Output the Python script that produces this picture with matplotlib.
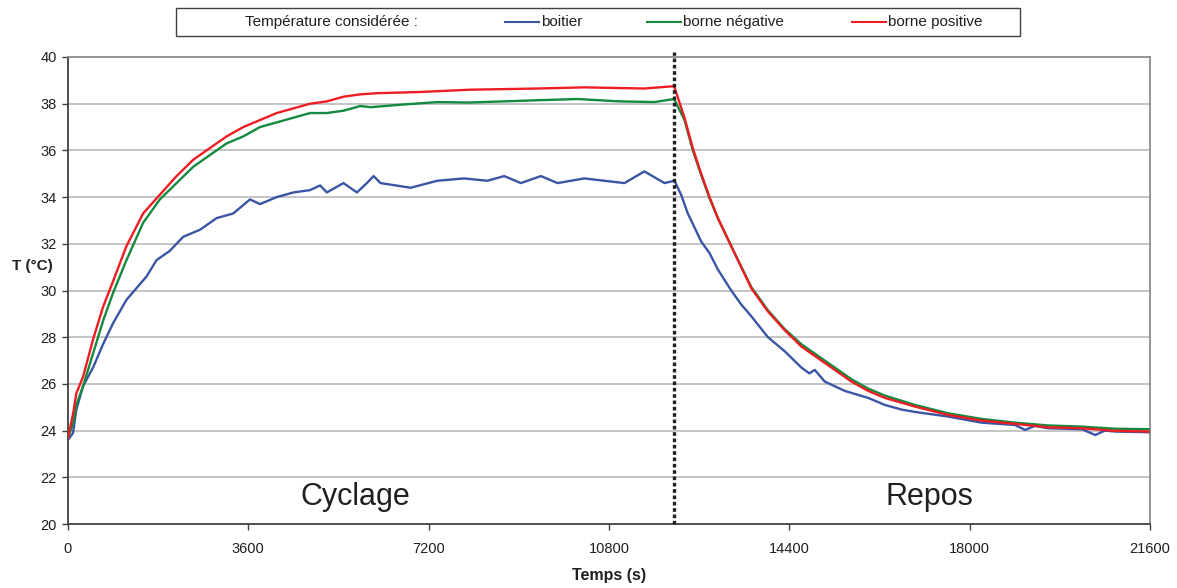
import matplotlib
matplotlib.use('Agg')
import matplotlib.pyplot as plt
from matplotlib.lines import Line2D
from matplotlib.patches import Rectangle

plt.rcParams['font.family'] = ['Liberation Sans', 'DejaVu Sans']

# temperatures (time in s, T in degC)
t_boitier = [0, 100, 167, 300, 500, 700, 900, 1167, 1367, 1567, 1767, 2033, 2300, 2633,
             2967, 3300, 3633, 3833, 4167, 4500, 4833, 5033, 5167, 5500, 5767, 5967, 6100,
             6240, 6840, 7373, 7907, 8373, 8707, 9040, 9440, 9773, 10307, 10707, 11107,
             11507, 11907, 12107, 12240, 12373, 12507, 12640, 12807, 12973, 13240, 13440,
             13640, 13973, 14307, 14640, 14800, 14907, 15107, 15507, 15973, 16307, 16640,
             16907, 17573, 18240, 18907, 19107, 19300, 19573, 20240, 20507, 20700, 20907, 21573]
T_boitier = [23.6, 23.9, 24.9, 25.9, 26.7, 27.7, 28.6, 29.6, 30.1, 30.6, 31.3, 31.7, 32.3, 32.6,
             33.1, 33.3, 33.9, 33.7, 34.0, 34.2, 34.3, 34.5, 34.2, 34.6, 34.2, 34.6, 34.9,
             34.6, 34.4, 34.7, 34.8, 34.7, 34.9, 34.6, 34.9, 34.6, 34.8, 34.7, 34.6,
             35.1, 34.6, 34.7, 34.1, 33.3, 32.7, 32.1, 31.6, 30.9, 30.0, 29.4,
             28.9, 28.0, 27.4, 26.7, 26.45, 26.6, 26.1, 25.7, 25.4, 25.1, 24.9,
             24.8, 24.6, 24.34, 24.24, 24.03, 24.2, 24.1, 24.06, 23.81, 24.0, 23.96, 23.93]

t_neg = [0, 100, 167, 300, 500, 700, 900, 1167, 1500, 1833, 2167, 2500, 2833, 3167, 3500,
         3833, 4167, 4500, 4833, 5167, 5500, 5833, 6040, 6600, 7373, 8000, 8707, 9400, 10173,
         11000, 11707, 12100, 12307, 12473, 12640, 12807, 12973, 13307, 13640, 13973, 14307,
         14640, 14973, 15307, 15640, 15973, 16307, 16907, 17573, 18240, 18907, 19573, 20240,
         20907, 21573]
T_neg = [23.7, 24.3, 25.1, 25.9, 27.3, 28.7, 29.9, 31.3, 32.9, 33.9, 34.6, 35.3, 35.8, 36.3, 36.6,
         37.0, 37.2, 37.4, 37.6, 37.6, 37.7, 37.9, 37.85, 37.95, 38.07, 38.05, 38.1, 38.15, 38.2,
         38.1, 38.07, 38.2, 37.3, 36.0, 34.95, 33.95, 33.1, 31.6, 30.15, 29.15, 28.35,
         27.7, 27.2, 26.7, 26.2, 25.8, 25.5, 25.1, 24.74, 24.5, 24.34, 24.22, 24.17,
         24.08, 24.06]

t_pos = [0, 100, 167, 300, 500, 700, 900, 1167, 1500, 1833, 2167, 2500, 2833, 3167, 3500,
         3833, 4167, 4500, 4833, 5167, 5500, 5833, 6167, 7000, 8040, 9373, 10307, 11500,
         12100, 12307, 12473, 12640, 12807, 12973, 13307, 13640, 13973, 14307, 14640, 14973,
         15307, 15640, 15973, 16307, 16907, 17573, 18240, 18907, 19573, 20240, 20907, 21573]
T_pos = [23.7, 24.7, 25.6, 26.3, 27.9, 29.3, 30.4, 31.9, 33.3, 34.1, 34.9, 35.6, 36.1, 36.6, 37.0,
         37.3, 37.6, 37.8, 38.0, 38.1, 38.3, 38.4, 38.45, 38.5, 38.6, 38.65, 38.7, 38.65,
         38.75, 37.4, 36.1, 35.0, 34.0, 33.1, 31.6, 30.1, 29.1, 28.3, 27.6, 27.1,
         26.6, 26.1, 25.7, 25.4, 25.03, 24.67, 24.43, 24.29, 24.14, 24.1, 23.99, 23.96]

x_ticks = [0, 3600, 7200, 10800, 14400, 18000, 21600]
y_ticks = [20, 22, 24, 26, 28, 30, 32, 34, 36, 38, 40]
t_switch = 12100

fig = plt.figure(figsize=(11.77, 5.88), dpi=100)
ax = fig.add_axes([68 / 1177, 64 / 588, 1082 / 1177, 467 / 588])

ax.plot(t_boitier, T_boitier, color='#3A55A4', lw=1.7, zorder=3)
ax.plot(t_neg, T_neg, color='#138A3E', lw=1.7, zorder=4)
ax.plot(t_pos, T_pos, color='#EE1D23', lw=1.7, zorder=5)

ax.axvline(t_switch, ymin=0, ymax=1.01, color='#231F20', lw=2.4,
           linestyle=(0, (1.1, 0.8)), dash_capstyle='butt', clip_on=False, zorder=6)

ax.set_xlim(0, 21600)
ax.set_ylim(20, 40)
ax.set_xticks(x_ticks)
ax.set_yticks(y_ticks)
ax.tick_params(axis='both', direction='out', length=4, width=1, color='#404040',
               labelsize=10.5, labelcolor='#231F20')
ax.tick_params(axis='x', pad=9)
ax.tick_params(axis='y', pad=4)

for y in y_ticks[1:-1]:
    ax.axhline(y, color='#C0C0C0', lw=1.3, zorder=1)

ax.spines['left'].set_color('#404040')
ax.spines['bottom'].set_color('#404040')
ax.spines['top'].set_color('#8C8C8C')
ax.spines['right'].set_color('#8C8C8C')
for s in ax.spines.values():
    s.set_linewidth(1.3)

ax.set_xlabel('Temps (s)', fontsize=11.5, fontweight='bold', color='#231F20')
ax.xaxis.set_label_coords(0.5, -0.095)
ax.set_ylabel('T (°C)', fontsize=11, fontweight='bold', color='#231F20', rotation=0,
              va='center', ha='center')
ax.yaxis.set_label_coords(-0.033, 0.552)

ax.text(5740, 20.81, 'Cyclage', fontsize=22, ha='center', va='baseline', color='#231F20')
ax.text(17200, 20.81, 'Repos', fontsize=22, ha='center', va='baseline', color='#231F20')

# legend box drawn by hand, like the Excel one
fig.patches.append(Rectangle((176 / 1177, 1 - 36 / 588), 844 / 1177, 28 / 588,
                             transform=fig.transFigure, fill=False,
                             edgecolor='#404040', lw=1))
ly = 1 - 22 / 588
fig.text(331 / 1177, ly, 'Température considérée :', fontsize=11, ha='center', va='center',
         color='#231F20')
items = [('boitier', '#3A55A4', 505), ('borne négative', '#138A3E', 647),
         ('borne positive', '#EE1D23', 852)]
for label, col, x0 in items:
    fig.lines.append(Line2D([x0 / 1177, (x0 + 34) / 1177], [ly, ly],
                            transform=fig.transFigure, color=col, lw=1.5))
    fig.text((x0 + 36) / 1177, ly, label, fontsize=11, ha='left', va='center',
             color='#231F20')

plt.savefig('out.png', dpi=100)
plt.close(fig)
